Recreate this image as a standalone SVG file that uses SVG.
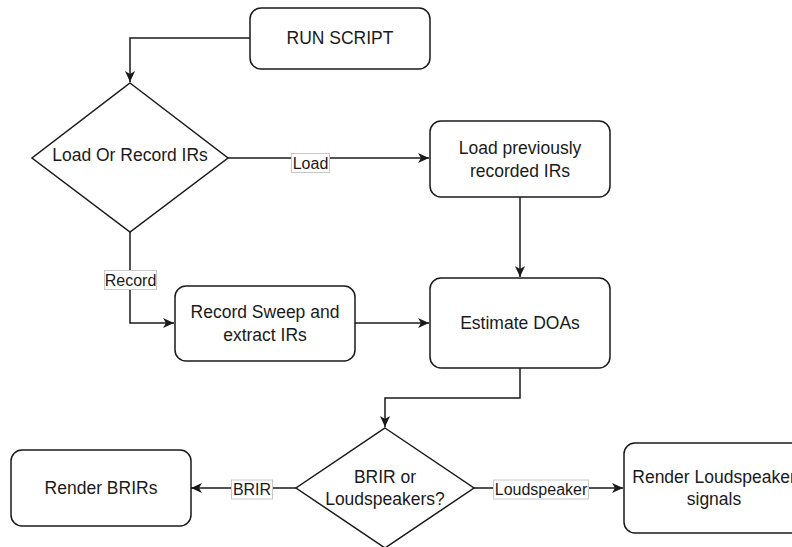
<svg xmlns="http://www.w3.org/2000/svg" width="792" height="547" viewBox="0 0 792 547">
<defs>
<style>
.box{fill:#fff;stroke:#1a1a1a;stroke-width:1.5}
.t{font-family:"Liberation Sans",Arial,sans-serif;font-size:17.5px;fill:#1a1a1a;text-anchor:middle;dominant-baseline:central}
.e{fill:none;stroke:#1a1a1a;stroke-width:1.5}
.lb{fill:#fff;stroke:#c8c8c8;stroke-width:1}
.lt{font-family:"Liberation Sans",Arial,sans-serif;font-size:16px;fill:#1a1a1a;text-anchor:middle;dominant-baseline:central}
</style>
<marker id="arr" markerWidth="12" markerHeight="10" refX="11" refY="5" orient="auto" markerUnits="userSpaceOnUse">
<path d="M0,0 L11,5 L0,10 L3,5 z" fill="#1a1a1a"/>
</marker>
</defs>
<g id="connectors">
<path class="e" d="M250,38 H130 V82" marker-end="url(#arr)"/>
<path class="e" d="M228,158 H429" marker-end="url(#arr)"/>
<path class="e" d="M130,232 V323 H174" marker-end="url(#arr)"/>
<path class="e" d="M520,197 V277" marker-end="url(#arr)"/>
<path class="e" d="M355,323 H429" marker-end="url(#arr)"/>
<path class="e" d="M520,368 V398 H385 V427" marker-end="url(#arr)"/>
<path class="e" d="M296,488 H191" marker-end="url(#arr)"/>
<path class="e" d="M474,488 H623" marker-end="url(#arr)"/>
<g id="label-load"><rect class="lb" x="291.5" y="153.5" width="38" height="19"/><text class="lt" x="310.5" y="163">Load</text></g>
<g id="label-record"><rect class="lb" x="104.5" y="270.5" width="52" height="19"/><text class="lt" x="130.5" y="280">Record</text></g>
<g id="label-brir"><rect class="lb" x="231.5" y="480" width="41" height="19"/><text class="lt" x="252" y="489.5">BRIR</text></g>
<g id="label-loudspeaker"><rect class="lb" x="493.5" y="480" width="95" height="19"/><text class="lt" x="541" y="489.5">Loudspeaker</text></g>
</g>
<g id="run-script"><rect class="box" x="250" y="8" width="180" height="61" rx="11"/><text class="t" x="340" y="38">RUN SCRIPT</text></g>
<g id="load-or-record"><polygon class="box" points="130,83 228,158 130,232 32,158"/><text class="t" x="130" y="155">Load Or Record IRs</text></g>
<g id="load-previously"><rect class="box" x="430" y="121" width="180" height="76" rx="11"/><text class="t" x="520" y="148">Load previously</text><text class="t" x="520" y="171">recorded IRs</text></g>
<g id="record-sweep"><rect class="box" x="175" y="286" width="180" height="75" rx="11"/><text class="t" x="265" y="312">Record Sweep and</text><text class="t" x="265" y="335">extract IRs</text></g>
<g id="estimate-doas"><rect class="box" x="430" y="278" width="180" height="90" rx="11"/><text class="t" x="520" y="323">Estimate DOAs</text></g>
<g id="brir-or-loudspeakers"><polygon class="box" points="385,428 474,488 385,548 296,488"/><text class="t" x="385" y="477">BRIR or</text><text class="t" x="385" y="499">Loudspeakers?</text></g>
<g id="render-brirs"><rect class="box" x="11" y="450" width="180" height="76" rx="11"/><text class="t" x="101" y="488">Render BRIRs</text></g>
<g id="render-loudspeaker"><rect class="box" x="624" y="443" width="180" height="90" rx="11"/><text class="t" x="714" y="477">Render Loudspeaker</text><text class="t" x="714" y="499">signals</text></g>
</svg>
